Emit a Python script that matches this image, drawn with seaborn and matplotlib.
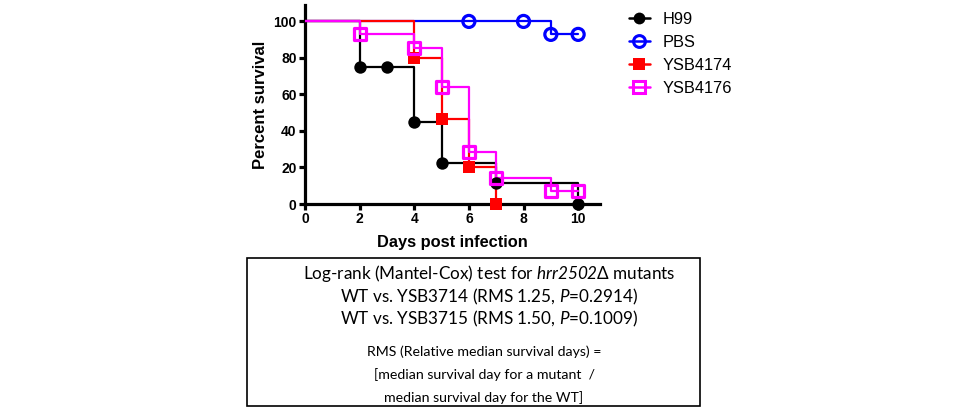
import matplotlib
matplotlib.use("Agg")
import matplotlib.pyplot as plt
import pandas as pd
import seaborn as sns
from matplotlib.lines import Line2D
from matplotlib.patches import Rectangle

# survival curves (step points, day -> percent survival)
h99_days = [0, 2, 3, 4, 5, 7, 10]
h99_surv = [100, 75, 75, 45, 22.5, 11.5, 0]
pbs_days = [0, 6, 8, 9, 10]
pbs_surv = [100, 100, 100, 92.9, 92.9]
y4174_days = [0, 4, 5, 6, 7]
y4174_surv = [100, 80, 46.7, 20, 0]
y4176_days = [0, 2, 4, 5, 6, 7, 9, 10]
y4176_surv = [100, 92.9, 85.7, 64.3, 28.6, 14.3, 7.1, 7.1]

groups = ["H99", "PBS", "YSB4174", "YSB4176"]
colors = {"H99": "black", "PBS": "#0000ff", "YSB4174": "#ff0000", "YSB4176": "#ff00ff"}
markers = {"H99": "o", "PBS": "o", "YSB4174": "s", "YSB4176": "s"}
filled = {"H99": True, "PBS": False, "YSB4174": True, "YSB4176": False}

xticks = [0, 2, 4, 6, 8, 10]
yticks = [0, 20, 40, 60, 80, 100]

box_lines = [
    "Log-rank (Mantel-Cox) test for $hrr2502$\u0394 mutants",
    "WT vs. YSB3714 (RMS 1.25, $P$=0.2914)",
    "WT vs. YSB3715 (RMS 1.50, $P$=0.1009)",
]
note_lines = [
    "RMS (Relative median survival days) =",
    "[median survival day for a mutant  /",
    "median survival day for the WT]",
]

sns.set_theme(style="ticks")
plt.rcParams["font.family"] = ["Liberation Sans", "DejaVu Sans"]
plt.rcParams["text.color"] = "black"
plt.rcParams["axes.labelcolor"] = "black"
plt.rcParams["xtick.color"] = "black"
plt.rcParams["ytick.color"] = "black"
# math parts of the box text are only the italic words
plt.rcParams["mathtext.fontset"] = "custom"
plt.rcParams["mathtext.it"] = "Lato:italic"
plt.rcParams["mathtext.rm"] = "Lato:italic"

series = {
    "H99": (h99_days, h99_surv),
    "PBS": (pbs_days, pbs_surv),
    "YSB4174": (y4174_days, y4174_surv),
    "YSB4176": (y4176_days, y4176_surv),
}
rows = []
for g in groups:
    d, s = series[g]
    for i, (x, y) in enumerate(zip(d, s)):
        rows.append({"group": g, "day": x, "surv": y, "event": i > 0})
df = pd.DataFrame(rows)

fig = plt.figure(figsize=(9.6, 4.15), dpi=100)
ax = fig.add_axes([305 / 960, 1 - 204 / 415, 295 / 960, 199 / 415])

for z, g in enumerate(groups):
    sub = df[df["group"] == g]
    sns.lineplot(data=sub, x="day", y="surv", color=colors[g], drawstyle="steps-post",
                 linewidth=1.6, ax=ax, legend=False, zorder=3 + z, estimator=None, sort=False)
    ev = sub[sub["event"]]
    ax.scatter(ev["day"], ev["surv"], marker=markers[g], s=80 if filled[g] else 75,
               facecolor=colors[g] if filled[g] else "none", edgecolor=colors[g],
               linewidths=0 if filled[g] else 2.3, zorder=10 + z, clip_on=False)

ax.set_xlim(0, 10.8)
ax.set_ylim(0, 109)
ax.set_xticks(xticks)
ax.set_yticks(yticks)
sns.despine(ax=ax)
for sp in ["left", "bottom"]:
    ax.spines[sp].set_linewidth(2.3)
    ax.spines[sp].set_color("black")
ax.tick_params(axis="both", width=2.3, length=4, color="black", labelsize=10, pad=2)
for lab in ax.get_xticklabels() + ax.get_yticklabels():
    lab.set_fontweight("bold")
ax.set_xlabel("Days post infection", fontsize=11.8, fontweight="bold", labelpad=6)
ax.set_ylabel("Percent survival", fontsize=12, fontweight="bold", labelpad=4)
ax.grid(False)

handles = []
for g in groups:
    handles.append(Line2D([0], [0], color=colors[g], lw=1.8, marker=markers[g],
                          markersize=8.5, markerfacecolor=colors[g] if filled[g] else "none",
                          markeredgecolor=colors[g], markeredgewidth=0 if filled[g] else 2.2))
fig.legend(handles, groups, loc="upper left", bbox_to_anchor=(622 / 960, 1 - 5 / 415),
           frameon=False, fontsize=11.8, handlelength=1.3, handletextpad=0.8,
           labelspacing=0.5, borderaxespad=0)

fig.add_artist(Rectangle((247 / 960, 1 - 406 / 415), 453 / 960, 148 / 415,
                         transform=fig.transFigure, fill=False, edgecolor="black", lw=1.2))
for i, t in enumerate(box_lines):
    fig.text(489 / 960, 1 - (274 + 22.5 * i) / 415, t, ha="center", va="center",
             fontsize=12.3, family="Lato")
for i, t in enumerate(note_lines):
    fig.text(484 / 960, 1 - (352 + 23 * i) / 415, t, ha="center", va="center",
             fontsize=10.2, family="Lato")

fig.savefig("out.png", dpi=100)
